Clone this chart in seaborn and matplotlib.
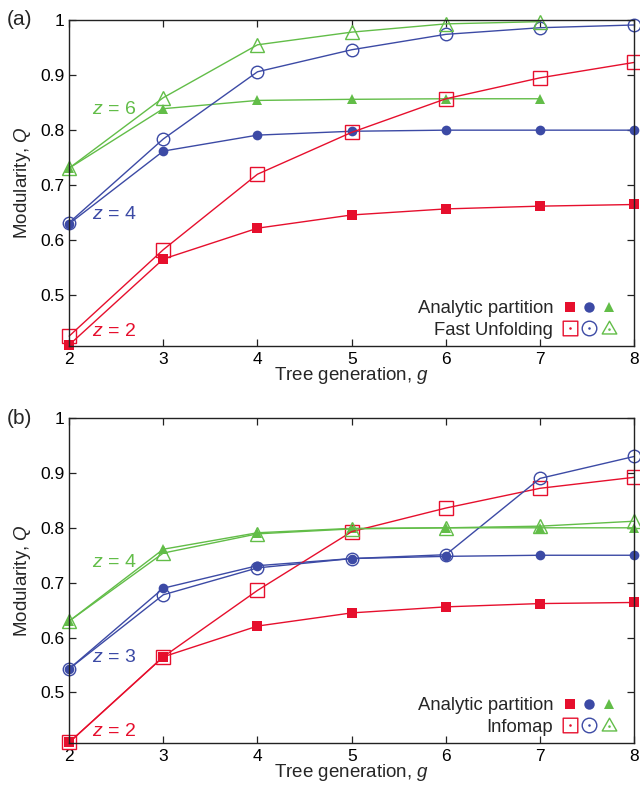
import numpy as np
import pandas as pd
import seaborn as sns
import matplotlib
matplotlib.use("Agg")
import matplotlib.pyplot as plt
from matplotlib.lines import Line2D
from matplotlib.path import Path
from matplotlib.legend_handler import HandlerTuple
from matplotlib.ticker import FuncFormatter

# Data

g = [2, 3, 4, 5, 6, 7, 8]

# panel (a): analytic partition vs Fast Unfolding
a_z2_analytic = [0.410, 0.566, 0.622, 0.646, 0.657, 0.662, 0.665]
a_z2_fu = [0.426, 0.583, 0.720, 0.796, 0.857, 0.895, 0.923]
a_z4_analytic = [0.630, 0.762, 0.791, 0.798, 0.800, 0.800, 0.800]
a_z4_fu = [0.632, 0.784, 0.906, 0.946, 0.974, 0.986, 0.991]
a_z6_analytic = [0.731, 0.839, 0.854, 0.856, 0.857, 0.857]
a_z6_fu = [0.731, 0.859, 0.955, 0.978, 0.993, 0.997]

# panel (b): analytic partition vs Infomap
b_z2_analytic = [0.409, 0.565, 0.621, 0.645, 0.656, 0.662, 0.664]
b_z2_im = [0.409, 0.565, 0.686, 0.793, 0.836, 0.872, 0.892]
b_z3_analytic = [0.543, 0.690, 0.731, 0.744, 0.748, 0.750, 0.750]
b_z3_im = [0.543, 0.678, 0.727, 0.744, 0.751, 0.890, 0.930]
b_z4_analytic = [0.630, 0.761, 0.791, 0.799, 0.800, 0.800, 0.800]
b_z4_im = [0.630, 0.754, 0.789, 0.798, 0.800, 0.803, 0.812]

RED = "#e60f2d"
BLUE = "#3c4aa5"
GREEN = "#62bd48"

sns.set_style("ticks")
plt.rcParams.update({
    "font.family": ["Liberation Sans", "DejaVu Sans"],
    "mathtext.fontset": "custom",
    "mathtext.rm": "Liberation Sans",
    "mathtext.it": "Liberation Sans:italic",
    "xtick.direction": "in",
    "ytick.direction": "in",
    "xtick.top": True,
    "ytick.right": True,
    "xtick.major.size": 5,
    "ytick.major.size": 5,
    "xtick.major.width": 0.9,
    "ytick.major.width": 0.9,
    "axes.linewidth": 1.0,
    "axes.edgecolor": "#222222",
    "xtick.color": "#222222",
    "ytick.color": "#222222",
    "xtick.labelcolor": "black",
    "ytick.labelcolor": "black",
    "xtick.labelsize": 12.5,
    "ytick.labelsize": 12.5,
})

fig = plt.figure(figsize=(6.4, 7.85), dpi=100)
ax_a = fig.add_axes([0.108, 0.5592, 0.883, 0.4153])
ax_b = fig.add_axes([0.108, 0.0535, 0.883, 0.414])


def series(ax, y, color, marker, filled):
    n = len(y)
    ms = {"s": 7.0, "o": 7.0, "^": 7.5}[marker] if filled else {"s": 9.5, "o": 9.0, "^": 9.5}[marker]
    sns.lineplot(
        x=g[:n], y=y, ax=ax, color=color, linewidth=1.0,
        marker=marker, markersize=ms,
        markerfacecolor=color if filled else "none",
        markeredgecolor=color, markeredgewidth=0.0 if filled else 1.0,
        clip_on=False,
    )


# open markers with a centre dot for the legend
def dotted(verts, dot=(0.0, 0.0)):
    outline = Path(verts + [verts[0]], [Path.MOVETO] + [Path.LINETO] * (len(verts) - 1) + [Path.CLOSEPOLY])
    return Path.make_compound_path(outline, Path.circle(dot, 0.08))


sq_dot = dotted([(-1, -1), (1, -1), (1, 1), (-1, 1)])
circ_dot = Path.make_compound_path(Path.unit_circle(), Path.circle((0, 0), 0.08))
tri_dot = dotted([(0, 1), (-1, -0.75), (1, -0.75)], dot=(0, -0.15))


def legend(ax, label2):
    filled = tuple(
        Line2D([], [], ls="none", marker=m, color=c, mec=c, mew=0, ms=7.5)
        for m, c in [("s", RED), ("o", BLUE), ("^", GREEN)]
    )
    opened = tuple(
        Line2D([], [], ls="none", marker=m, color=c, mec=c, mfc="none", mew=1.0, ms=10.5)
        for m, c in [(sq_dot, RED), (circ_dot, BLUE), (tri_dot, GREEN)]
    )
    ax.legend(
        [filled, opened], ["Analytic partition", label2],
        handler_map={tuple: HandlerTuple(ndivide=None, pad=0)},
        loc="lower right", frameon=False, markerfirst=False,
        fontsize=13.3, handlelength=3.2, handletextpad=0.35, numpoints=1,
        labelspacing=0.25, borderaxespad=0.0, bbox_to_anchor=(0.986, 0.0),
    )


def style_axes(ax):
    ax.set_xlim(2, 8)
    ax.set_ylim(0.408, 1.0)
    ax.set_xticks(g)
    ax.set_yticks([0.5, 0.6, 0.7, 0.8, 0.9, 1.0])
    ax.yaxis.set_major_formatter(FuncFormatter(lambda v, p: f"{v:g}"))
    ax.tick_params(axis="x", pad=4)
    ax.set_xlabel("Tree generation, $g$", fontsize=13.5, labelpad=-1)
    ax.set_ylabel("Modularity, $Q$", fontsize=13.5, labelpad=5)
    ax.grid(False)


ZFS = 14

# panel (a)
series(ax_a, a_z2_analytic, RED, "s", True)
series(ax_a, a_z4_analytic, BLUE, "o", True)
series(ax_a, a_z6_analytic, GREEN, "^", True)
series(ax_a, a_z2_fu, RED, "s", False)
series(ax_a, a_z4_fu, BLUE, "o", False)
series(ax_a, a_z6_fu, GREEN, "^", False)
style_axes(ax_a)
ax_a.text(2.245, 0.837, "$z$ = 6", color=GREEN, fontsize=ZFS, va="center")
ax_a.text(2.245, 0.647, "$z$ = 4", color=BLUE, fontsize=ZFS, va="center")
ax_a.text(2.245, 0.434, "$z$ = 2", color=RED, fontsize=ZFS, va="center")
legend(ax_a, "Fast Unfolding")

# panel (b)
series(ax_b, b_z2_analytic, RED, "s", True)
series(ax_b, b_z3_analytic, BLUE, "o", True)
series(ax_b, b_z4_analytic, GREEN, "^", True)
series(ax_b, b_z2_im, RED, "s", False)
series(ax_b, b_z3_im, BLUE, "o", False)
series(ax_b, b_z4_im, GREEN, "^", False)
style_axes(ax_b)
ax_b.text(2.245, 0.737, "$z$ = 4", color=GREEN, fontsize=ZFS, va="center")
ax_b.text(2.245, 0.564, "$z$ = 3", color=BLUE, fontsize=ZFS, va="center")
ax_b.text(2.245, 0.429, "$z$ = 2", color=RED, fontsize=ZFS, va="center")
legend(ax_b, "Infomap")

fig.text(0.011, 0.975, "(a)", fontsize=15, va="center")
fig.text(0.011, 0.4675, "(b)", fontsize=15, va="center")

fig.savefig("out.png", dpi=100)
